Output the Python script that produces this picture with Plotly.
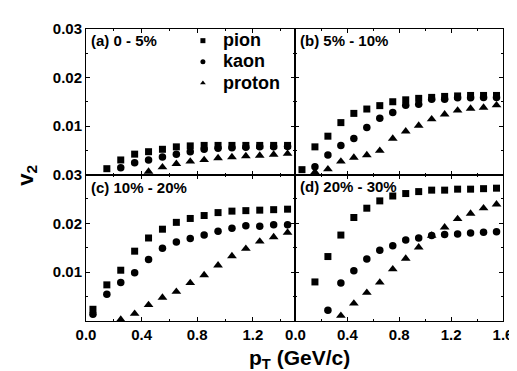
import plotly.graph_objects as go
from plotly.subplots import make_subplots

# ---------------- data ----------------
# panel (a) 0 - 5%
pt_a_pion = [0.15, 0.25, 0.35, 0.45, 0.55, 0.65, 0.75, 0.85, 0.95, 1.05, 1.15, 1.25, 1.35, 1.45]
v2_a_pion = [0.0012, 0.0030, 0.0042, 0.0047, 0.0052, 0.0057, 0.0059, 0.0060, 0.0060, 0.0060, 0.0060, 0.0060, 0.0060, 0.0060]
pt_a_kaon = [0.25, 0.35, 0.45, 0.55, 0.65, 0.75, 0.85, 0.95, 1.05, 1.15, 1.25, 1.35, 1.45]
v2_a_kaon = [0.0014, 0.0024, 0.0030, 0.0036, 0.0042, 0.0047, 0.0052, 0.0054, 0.0055, 0.0056, 0.0057, 0.0057, 0.0058]
pt_a_proton = [0.45, 0.55, 0.65, 0.75, 0.85, 0.95, 1.05, 1.15, 1.25, 1.35, 1.45]
v2_a_proton = [0.0006, 0.0015, 0.0022, 0.0027, 0.0030, 0.0034, 0.0036, 0.0038, 0.0039, 0.0041, 0.0043]

# panel (b) 5% - 10%
pt_b_pion = [0.05, 0.15, 0.25, 0.35, 0.45, 0.55, 0.65, 0.75, 0.85, 0.95, 1.05, 1.15, 1.25, 1.35, 1.45, 1.55]
v2_b_pion = [0.0010, 0.0057, 0.0079, 0.0107, 0.0126, 0.0135, 0.0142, 0.0150, 0.0154, 0.0157, 0.0159, 0.0161, 0.0162, 0.0163, 0.0163, 0.0163]
pt_b_kaon = [0.15, 0.25, 0.35, 0.45, 0.55, 0.65, 0.75, 0.85, 0.95, 1.05, 1.15, 1.25, 1.35, 1.45, 1.55]
v2_b_kaon = [0.0016, 0.0040, 0.0060, 0.0074, 0.0097, 0.0116, 0.0128, 0.0143, 0.0145, 0.0155, 0.0155, 0.0158, 0.0158, 0.0159, 0.0159]
pt_b_proton = [0.15, 0.25, 0.35, 0.45, 0.55, 0.65, 0.75, 0.85, 0.95, 1.05, 1.15, 1.25, 1.35, 1.45, 1.55]
v2_b_proton = [0.0005, 0.0011, 0.0027, 0.0035, 0.0040, 0.0049, 0.0074, 0.0089, 0.0101, 0.0114, 0.0124, 0.0132, 0.0136, 0.0138, 0.0143]

# panel (c) 10% - 20%
pt_c_pion = [0.05, 0.15, 0.25, 0.35, 0.45, 0.55, 0.65, 0.75, 0.85, 0.95, 1.05, 1.15, 1.25, 1.35, 1.45]
v2_c_pion = [0.0024, 0.0074, 0.0104, 0.0143, 0.0170, 0.0188, 0.0202, 0.0210, 0.0216, 0.0222, 0.0225, 0.0226, 0.0227, 0.0228, 0.0229]
pt_c_kaon = [0.05, 0.15, 0.25, 0.35, 0.45, 0.55, 0.65, 0.75, 0.85, 0.95, 1.05, 1.15, 1.25, 1.35, 1.45]
v2_c_kaon = [0.0014, 0.0055, 0.0079, 0.0099, 0.0126, 0.0149, 0.0162, 0.0169, 0.0176, 0.0184, 0.0190, 0.0195, 0.0194, 0.0197, 0.0197]
pt_c_proton = [0.25, 0.35, 0.45, 0.55, 0.65, 0.75, 0.85, 0.95, 1.05, 1.15, 1.25, 1.35, 1.45]
v2_c_proton = [0.0003, 0.0015, 0.0033, 0.0048, 0.0060, 0.0078, 0.0094, 0.0114, 0.0133, 0.0148, 0.0163, 0.0172, 0.0181]

# panel (d) 20% - 30%
pt_d_pion = [0.15, 0.25, 0.35, 0.45, 0.55, 0.65, 0.75, 0.85, 0.95, 1.05, 1.15, 1.25, 1.35, 1.45, 1.55]
v2_d_pion = [0.0080, 0.0132, 0.0176, 0.0212, 0.0231, 0.0246, 0.0256, 0.0261, 0.0265, 0.0268, 0.0268, 0.0270, 0.0270, 0.0271, 0.0272]
pt_d_kaon = [0.25, 0.35, 0.45, 0.55, 0.65, 0.75, 0.85, 0.95, 1.05, 1.15, 1.25, 1.35, 1.45, 1.55]
v2_d_kaon = [0.0022, 0.0078, 0.0103, 0.0127, 0.0145, 0.0154, 0.0166, 0.0170, 0.0175, 0.0177, 0.0178, 0.0180, 0.0182, 0.0183]
pt_d_proton = [0.35, 0.45, 0.55, 0.65, 0.75, 0.85, 0.95, 1.05, 1.15, 1.25, 1.35, 1.45, 1.55]
v2_d_proton = [0.0011, 0.0036, 0.0058, 0.0079, 0.0106, 0.0128, 0.0151, 0.0175, 0.0192, 0.0209, 0.0220, 0.0231, 0.0239]

panel_labels = ["(a) 0 - 5%", "(b) 5% - 10%", "(c) 10% - 20%", "(d) 20% - 30%"]
species = ["pion", "kaon", "proton"]
symbols = {"pion": "square", "kaon": "circle", "proton": "triangle-up"}
msize = {"pion": 7, "kaon": 7.5, "proton": 8.5}

x_ticks_left = [0.0, 0.4, 0.8, 1.2]
x_ticks_right = [0.0, 0.4, 0.8, 1.2, 1.6]
y_ticks = [0.01, 0.02, 0.03]

panels = [
    (1, 1, {"pion": (pt_a_pion, v2_a_pion), "kaon": (pt_a_kaon, v2_a_kaon), "proton": (pt_a_proton, v2_a_proton)}),
    (1, 2, {"pion": (pt_b_pion, v2_b_pion), "kaon": (pt_b_kaon, v2_b_kaon), "proton": (pt_b_proton, v2_b_proton)}),
    (2, 1, {"pion": (pt_c_pion, v2_c_pion), "kaon": (pt_c_kaon, v2_c_kaon), "proton": (pt_c_proton, v2_c_proton)}),
    (2, 2, {"pion": (pt_d_pion, v2_d_pion), "kaon": (pt_d_kaon, v2_d_kaon), "proton": (pt_d_proton, v2_d_proton)}),
]

# ---------------- figure ----------------
W, H = 517, 371
ML, MR, MT, MB = 78, 13, 16, 58
pw = W - ML - MR
ph = H - MT - MB
xsplit = 214 / pw
ysplit = 149 / ph

fig = make_subplots(rows=2, cols=2, horizontal_spacing=0, vertical_spacing=0)

for r, c, data in panels:
    for sp in species:
        xs, ys = data[sp]
        fig.add_trace(go.Scatter(
            x=xs, y=ys, mode="markers", showlegend=False, cliponaxis=False,
            marker=dict(symbol=symbols[sp], size=msize[sp], color="black", line=dict(width=0)),
        ), row=r, col=c)

# legend-only entries (small symbols like the reference)
for sp in species:
    fig.add_trace(go.Scatter(
        x=[None], y=[None], mode="markers",
        name=f"<span style='font-size:18px'>{sp}</span>", showlegend=True,
        marker=dict(symbol=symbols[sp], size=5, color="black"),
    ), row=1, col=1)

FONT = "Liberation Sans, Arial, sans-serif"
tickfont = dict(family=FONT, size=15, color="black", weight="bold")

axis_common = dict(
    showline=True, linecolor="black", linewidth=1, mirror="allticks",
    ticks="inside", ticklen=4, tickwidth=1, tickcolor="black",
    showgrid=False, zeroline=False, tickfont=tickfont,
)

xdomains = {1: [0, xsplit], 2: [xsplit, 1]}
ydomains = {1: [ysplit, 1], 2: [0, ysplit]}
for r in (1, 2):
    for c in (1, 2):
        xa = dict(axis_common)
        xa["domain"] = xdomains[c]
        if c == 1:
            xa["range"] = [0, 1.507]
            xa["tickvals"] = x_ticks_left
        else:
            xa["range"] = [0, 1.6]
            xa["tickvals"] = x_ticks_right
        xa["ticktext"] = [f"{v:.1f}" for v in xa["tickvals"]]
        xa["showticklabels"] = (r == 2)
        xa["minor"] = dict(dtick=0.2, tick0=0, ticks="inside", ticklen=2, tickcolor="black")
        fig.update_xaxes(row=r, col=c, **xa)

        ya = dict(axis_common)
        ya["domain"] = ydomains[r]
        ya["range"] = [0, 0.03]
        ya["tickvals"] = y_ticks
        ya["ticktext"] = [f"{v:.2f}" for v in y_ticks]
        ya["showticklabels"] = (c == 1)
        ya["minor"] = dict(dtick=0.005, tick0=0, ticks="inside", ticklen=2, tickcolor="black")
        fig.update_yaxes(row=r, col=c, **ya)

annotations = []
lab_pos = [(0.007, (313 - 28) / ph), (xsplit + 0.005, (313 - 28) / ph),
           (0.007, (313 - 177) / ph), (xsplit + 0.005, (313 - 176) / ph)]
for text, (ax, ay) in zip(panel_labels, lab_pos):
    annotations.append(dict(
        text=f"<b>{text}</b>", x=ax, y=ay, xref="paper", yref="paper",
        xanchor="left", yanchor="middle", showarrow=False,
        font=dict(family=FONT, size=15, color="black"),
    ))

annotations.append(dict(
    text="<b>v<sub>2</sub></b>", x=(18 - ML) / pw, y=(313 - 165) / ph,
    xref="paper", yref="paper", textangle=-90, showarrow=False,
    xanchor="center", yanchor="middle",
    font=dict(family=FONT, size=22, color="black"),
))
annotations.append(dict(
    text="<b>p<sub>T</sub> (GeV/c)</b>", x=(296 - ML) / pw, y=(313 - 352) / ph,
    xref="paper", yref="paper", showarrow=False,
    xanchor="center", yanchor="middle",
    font=dict(family=FONT, size=21, color="black"),
))

fig.update_layout(
    width=W, height=H,
    margin=dict(l=ML, r=MR, t=MT, b=MB, pad=0),
    paper_bgcolor="white", plot_bgcolor="white",
    annotations=annotations,
    showlegend=True,
    legend=dict(
        x=(177 - ML) / pw, y=(313 - 12) / ph, xanchor="left", yanchor="top",
        bgcolor="rgba(0,0,0,0)", borderwidth=0,
        font=dict(family=FONT, size=14, color="black", weight="bold"),
        tracegroupgap=0, itemsizing="trace",
    ),
)

fig.write_html("out.html")
